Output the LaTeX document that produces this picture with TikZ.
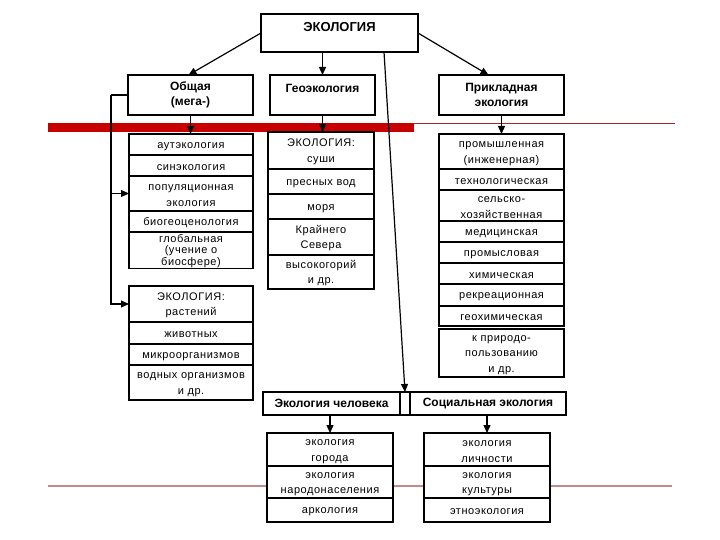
\documentclass[tikz,border=0pt]{standalone}
\usepackage{fontspec}
\setmainfont{Liberation Sans}
\newfontfamily\cellfont[LetterSpace=5]{Liberation Sans}
\usepackage{tikz}
\usetikzlibrary{
  arrows.meta,
  positioning
}
\definecolor{BarRed}{RGB}{200, 0, 0}
\definecolor{LineRed}{RGB}{165, 40, 40}
\definecolor{LinePink}{RGB}{190, 140, 140}
\tikzset{
    head/.style={draw, line width=1.6pt, fill=white, align=center, inner sep=0pt, outer sep=0pt,
                 font=\bfseries\fontsize{12}{15.5}\selectfont},
    cell/.style={draw, line width=1.2pt, fill=white, align=center, inner sep=0pt, outer sep=0pt,
                 font=\cellfont\fontsize{11}{15.5}\selectfont, execute at begin node={\rule{0pt}{10pt}}},
    lcol/.style={cell, minimum width=124pt, text width=122pt},
    mcol/.style={cell, minimum width=106pt, text width=104pt},
    rcol/.style={cell, minimum width=125pt, text width=123pt},
    dcol/.style={cell, minimum width=126pt, text width=124pt},
    link/.style={line width=1.2pt, -{Triangle[length=8pt, width=7pt]}}
}

\begin{document}
\begin{tikzpicture}[x=1pt, y=-1pt]
    \useasboundingbox (0,0) rectangle (720,540);
    % red rules behind the chart
    \fill[BarRed] (48,123) rectangle (414,132);
    \draw[LineRed, line width=1pt] (414,124) -- (675,124);
    \draw[LinePink, line width=1.6pt] (48,486) -- (672,486);

    % top levels
    \node[head, minimum width=157pt, minimum height=38pt, text depth=13pt, font=\bfseries\fontsize{13}{15}\selectfont] (eco) at (339.5,33) {ЭКОЛОГИЯ};
    \node[head, minimum width=125pt, minimum height=40pt] (gen) at (190.5,95) {Общая\\(мега-)};
    \node[head, minimum width=105pt, minimum height=40pt, text depth=14pt] (geo) at (322.5,95) {Геоэкология};
    \node[head, minimum width=125pt, minimum height=40pt] (app) at (501.5,95) {Прикладная\\экология};

    % general ecology
    \node[lcol, minimum height=21pt] (auto) at (191,144.5) {аутэкология};
    \node[lcol, minimum height=21pt, below=0pt of auto] (syn) {синэкология};
    \node[lcol, minimum height=35pt, below=0pt of syn] (popul) {популяционная\\экология};
    \node[lcol, minimum height=21pt, below=0pt of popul] (biogeo) {биогеоценология};
    \node[lcol, minimum height=35pt, below=0pt of biogeo, font=\cellfont\fontsize{11}{12}\selectfont, execute at begin node={}] (glob) {глобальная\\(учение о\\биосфере)};
    \node[lcol, minimum height=36pt] (plants) at (191,304) {ЭКОЛОГИЯ:\\растений};
    \node[lcol, minimum height=22pt, below=0pt of plants] (animals) {животных};
    \node[lcol, minimum height=21pt, below=0pt of animals] (micro) {микроорганизмов};
    \node[lcol, minimum height=35pt, below=0pt of micro] (water) {водных организмов\\и др.};

    % geoecology
    \node[mcol, minimum height=37pt] (land) at (321,150.5) {ЭКОЛОГИЯ:\\суши};
    \node[mcol, minimum height=25pt, below=0pt of land] (fresh) {пресных вод};
    \node[mcol, minimum height=25pt, below=0pt of fresh] (sea) {моря};
    \node[mcol, minimum height=36pt, below=0pt of sea] (north) {Крайнего\\Севера};
    \node[mcol, minimum height=34pt, below=0pt of north] (high) {высокогорий\\и др.};

    % applied ecology
    \node[rcol, minimum height=35pt] (ind) at (501.5,151.5) {промышленная\\(инженерная)};
    \node[rcol, minimum height=21pt, below=0pt of ind] (tech) {технологическая};
    \node[rcol, minimum height=31pt, below=0pt of tech] (agri) {сельско-\\хозяйственная};
    \node[rcol, minimum height=21pt, below=0pt of agri] (med) {медицинская};
    \node[rcol, minimum height=21pt, below=0pt of med] (fish) {промысловая};
    \node[rcol, minimum height=21pt, below=0pt of fish] (chem) {химическая};
    \node[rcol, minimum height=22pt, below=0pt of chem] (recr) {рекреационная};
    \node[rcol, minimum height=20pt, below=0pt of recr] (geochem) {геохимическая};
    \node[rcol, minimum height=48pt] (nature) at (501.5,353) {к природо-\\пользованию\\и др.};

    % human and social ecology
    \node[head, minimum width=137pt, minimum height=23pt] (human) at (331.5,403.5) {Экология человека};
    \node[head, minimum width=10pt, minimum height=23pt, right=0pt of human] (gap) {};
    \node[head, minimum width=156pt, minimum height=23pt, right=0pt of gap] (social) {Социальная экология};
    \node[dcol, minimum height=33pt] (city) at (330,449.5) {экология\\города};
    \node[dcol, minimum height=32pt, below=0pt of city] (people) {экология\\народонаселения};
    \node[dcol, minimum height=24pt, below=0pt of people] (arco) {аркология};
    \node[dcol, minimum height=33pt] (person) at (487,449.5) {экология\\личности};
    \node[dcol, minimum height=32pt, below=0pt of person] (culture) {экология\\культуры};
    \node[dcol, minimum height=24pt, below=0pt of culture] (ethno) {этноэкология};

    % connectors
    \draw[link] (eco.west) -- ([xshift=-2pt]gen.north);
    \draw[link] (eco.south -| geo.north) -- (geo.north);
    \draw[link] (eco.east) -- ([xshift=-13pt]app.north);
    \draw[link] ([xshift=44.5pt]eco.south) -- (gap.north);
    \draw[link] (gen.south) -- (gen.south |- auto.north);
    \draw[link] (geo.south) -- (geo.south |- land.north);
    \draw[link] (app.south) -- (app.south |- ind.north);
    \draw[line width=1.2pt] (gen.west) -- ++(-17,0) coordinate (bend);
    \draw[link] (bend) |- (popul.west);
    \draw[link] (bend) |- (plants.west);
    \draw[link] (human.south -| city.north) -- (city.north);
    \draw[link] (social.south -| person.north) -- (person.north);
\end{tikzpicture}
\end{document}
